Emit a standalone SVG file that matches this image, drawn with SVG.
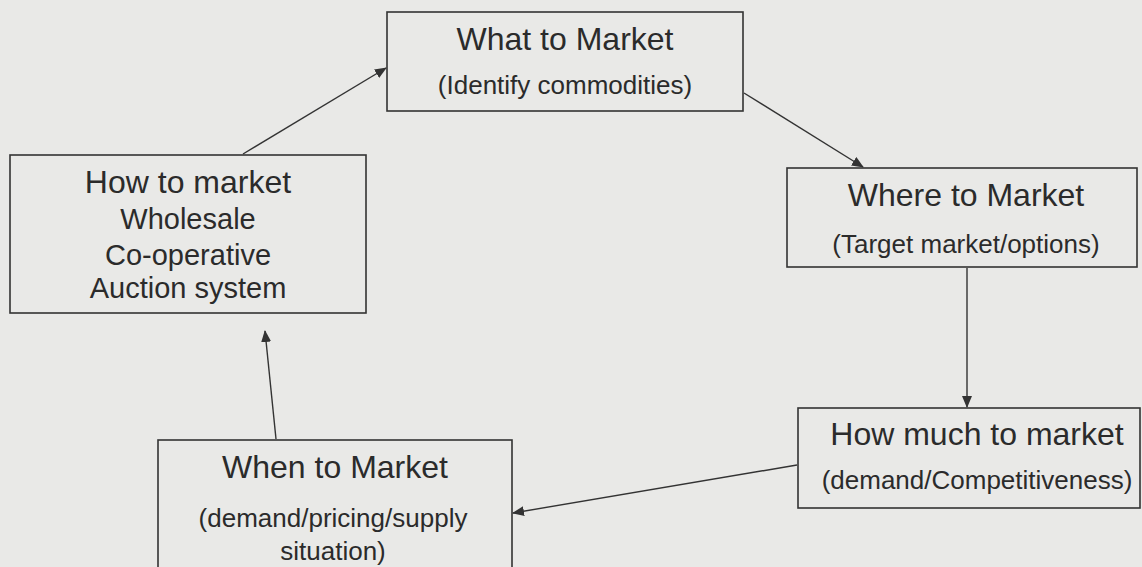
<svg xmlns="http://www.w3.org/2000/svg" width="1142" height="567" viewBox="0 0 1142 567">
  <style>
    .box { fill: none; stroke: #333; stroke-width: 1.6; }
    .title { font-family: "Liberation Sans", Arial, sans-serif; font-size: 32px; fill: #2b2b2b; text-anchor: middle; }
    .sub { font-family: "Liberation Sans", Arial, sans-serif; font-size: 26px; fill: #2b2b2b; text-anchor: middle; }
    .item { font-family: "Liberation Sans", Arial, sans-serif; font-size: 29px; fill: #2b2b2b; text-anchor: middle; }
    .link { fill: none; stroke: #333; stroke-width: 1.4; marker-end: url(#arrow); }
  </style>
  <defs>
    <marker id="arrow" viewBox="0 0 12 10" refX="11" refY="5" markerWidth="12" markerHeight="10" markerUnits="userSpaceOnUse" orient="auto">
      <path d="M0,0 L12,5 L0,10 Z" fill="#333"/>
    </marker>
  </defs>

  <rect width="1142" height="567" fill="#e9e9e7"/>

  <g id="connectors">
    <line class="link" x1="243" y1="154" x2="386" y2="68"/>
    <line class="link" x1="744" y1="93" x2="863" y2="167"/>
    <line class="link" x1="967" y1="268" x2="967" y2="407"/>
    <line class="link" x1="797" y1="465" x2="513" y2="513"/>
    <line class="link" x1="276" y1="439" x2="265" y2="331"/>
  </g>

  <g id="what-to-market">
    <rect class="box" x="387" y="12" width="356" height="99"/>
    <text class="title" x="565" y="50">What to Market</text>
    <text class="sub" x="565" y="94">(Identify commodities)</text>
  </g>

  <g id="how-to-market">
    <rect class="box" x="10" y="155" width="356" height="158"/>
    <text class="title" x="188" y="193">How to market</text>
    <text class="item" x="188" y="229">Wholesale</text>
    <text class="item" x="188" y="265">Co-operative</text>
    <text class="item" x="188" y="298">Auction system</text>
  </g>

  <g id="where-to-market">
    <rect class="box" x="787" y="168" width="350" height="99"/>
    <text class="title" x="966" y="206">Where to Market</text>
    <text class="sub" x="966" y="253">(Target market/options)</text>
  </g>

  <g id="how-much-to-market">
    <rect class="box" x="798" y="408" width="342" height="100"/>
    <text class="title" x="977" y="445">How much to market</text>
    <text class="sub" x="977" y="489">(demand/Competitiveness)</text>
  </g>

  <g id="when-to-market">
    <rect class="box" x="158" y="440" width="354" height="140"/>
    <text class="title" x="335" y="478">When to Market</text>
    <text class="sub" x="333" y="527">(demand/pricing/supply</text>
    <text class="sub" x="333" y="560">situation)</text>
  </g>
</svg>
